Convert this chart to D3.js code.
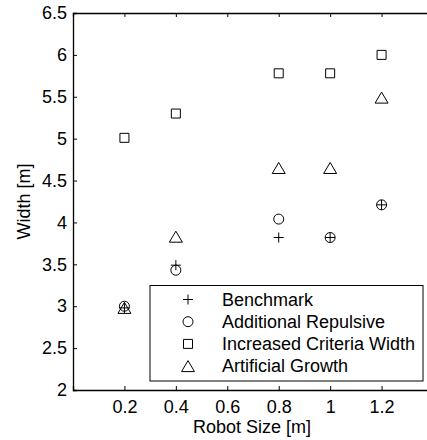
<!DOCTYPE html>
<html>
<head>
<meta charset="utf-8">
<script src="https://cdn.jsdelivr.net/npm/d3@7"></script>
<style>
  body { margin: 0; background: #fff; }
  svg { display: block; font-family: "Liberation Sans", Arial, sans-serif; }
</style>
</head>
<body>
<svg id="chart" width="427" height="440"></svg>
<script>
// robot sizes (x) and measured widths per method
var robotSize = [0.2, 0.4, 0.8, 1.0, 1.2];
var benchmark = [2.98, 3.49, 3.82, 3.82, 4.21];
var additionalRepulsive = [3.0, 3.43, 4.04, 3.82, 4.21];
var increasedCriteriaWidth = [5.01, 5.30, 5.78, 5.78, 6.0];
var artificialGrowth = [2.98, 3.83, 4.65, 4.65, 5.49];

var seriesNames = ["Benchmark", "Additional Repulsive", "Increased Criteria Width", "Artificial Growth"];
var seriesValues = [benchmark, additionalRepulsive, increasedCriteriaWidth, artificialGrowth];
var markerTypes = ["plus", "circle", "square", "triangle"];

var xTicks = [0.2, 0.4, 0.6, 0.8, 1, 1.2];
var yTicks = [2, 2.5, 3, 3.5, 4, 4.5, 5, 5.5, 6, 6.5];

var margin = {left: 73, top: 13, right: 433, bottom: 390};
var fontSize = 18;
var svg = d3.select("#chart");

var x = d3.scaleLinear().domain([0, 1.4]).range([margin.left, margin.right]);
var y = d3.scaleLinear().domain([2, 6.5]).range([margin.bottom, margin.top]);

// marker shapes, drawn as outlines like matlab
function marker(type) {
  if (type == "plus") return "M-5,0H5M0,-5V5";
  if (type == "circle") return "M5,0A5,5 0 1,1 -5,0A5,5 0 1,1 5,0Z";
  if (type == "square") return "M-4.5,-4.5H4.5V4.5H-4.5Z";
  return "M0,-5.5L6.5,5.5H-6.5Z";
}

// axes
var fmt = function(d) { return d3.format("")(d); };
svg.append("g").attr("transform", "translate(0," + margin.bottom + ")")
  .call(d3.axisBottom(x).tickValues(xTicks).tickSize(-4).tickPadding(10).tickFormat(fmt));
svg.append("g").attr("transform", "translate(0," + margin.top + ")")
  .call(d3.axisTop(x).tickValues(xTicks).tickSize(-4).tickFormat(""));
svg.append("g").attr("transform", "translate(" + margin.left + ",0)")
  .call(d3.axisLeft(y).tickValues(yTicks).tickSize(-4).tickPadding(6).tickFormat(fmt));
svg.append("g").attr("transform", "translate(" + margin.right + ",0)")
  .call(d3.axisRight(y).tickValues(yTicks).tickSize(-4).tickFormat(""));

svg.selectAll(".domain").attr("stroke", "#000").attr("stroke-width", 1.3);
svg.selectAll(".tick line").attr("stroke", "#000");
svg.selectAll(".tick text").attr("fill", "#000").attr("font-size", fontSize)
  .attr("font-family", "Liberation Sans, Arial, sans-serif");

// axis labels
svg.append("text").attr("x", 252).attr("y", 433)
  .attr("text-anchor", "middle").attr("font-size", fontSize).text("Robot Size [m]");
svg.append("text").attr("transform", "translate(30," + (margin.top + margin.bottom) / 2 + ") rotate(-90)")
  .attr("text-anchor", "middle").attr("font-size", fontSize).text("Width [m]");

// points
seriesValues.forEach(function(vals, si) {
  svg.append("g").selectAll("path").data(vals).enter().append("path")
    .attr("d", marker(markerTypes[si]))
    .attr("transform", function(d, i) { return "translate(" + x(robotSize[i]) + "," + y(d) + ")"; })
    .attr("fill", "none").attr("stroke", "#000").attr("stroke-width", 1);
});

// legend
var leg = svg.append("g").attr("class", "legend");
leg.append("rect").attr("x", 150).attr("y", 285.5).attr("width", 273).attr("height", 95.5)
  .attr("fill", "#fff").attr("stroke", "#000").attr("stroke-width", 1);
var rows = leg.selectAll("g.row").data(seriesNames).enter().append("g").attr("class", "row")
  .attr("transform", function(d, i) { return "translate(0," + (299.5 + i * 22.2) + ")"; });
rows.append("path").attr("d", function(d, i) { return marker(markerTypes[i]); })
  .attr("transform", "translate(188,0)").attr("fill", "none").attr("stroke", "#000");
rows.append("text").attr("x", 222).attr("y", 0).attr("dy", "0.35em")
  .attr("font-size", fontSize).text(function(d) { return d; });
</script>
</body>
</html>
